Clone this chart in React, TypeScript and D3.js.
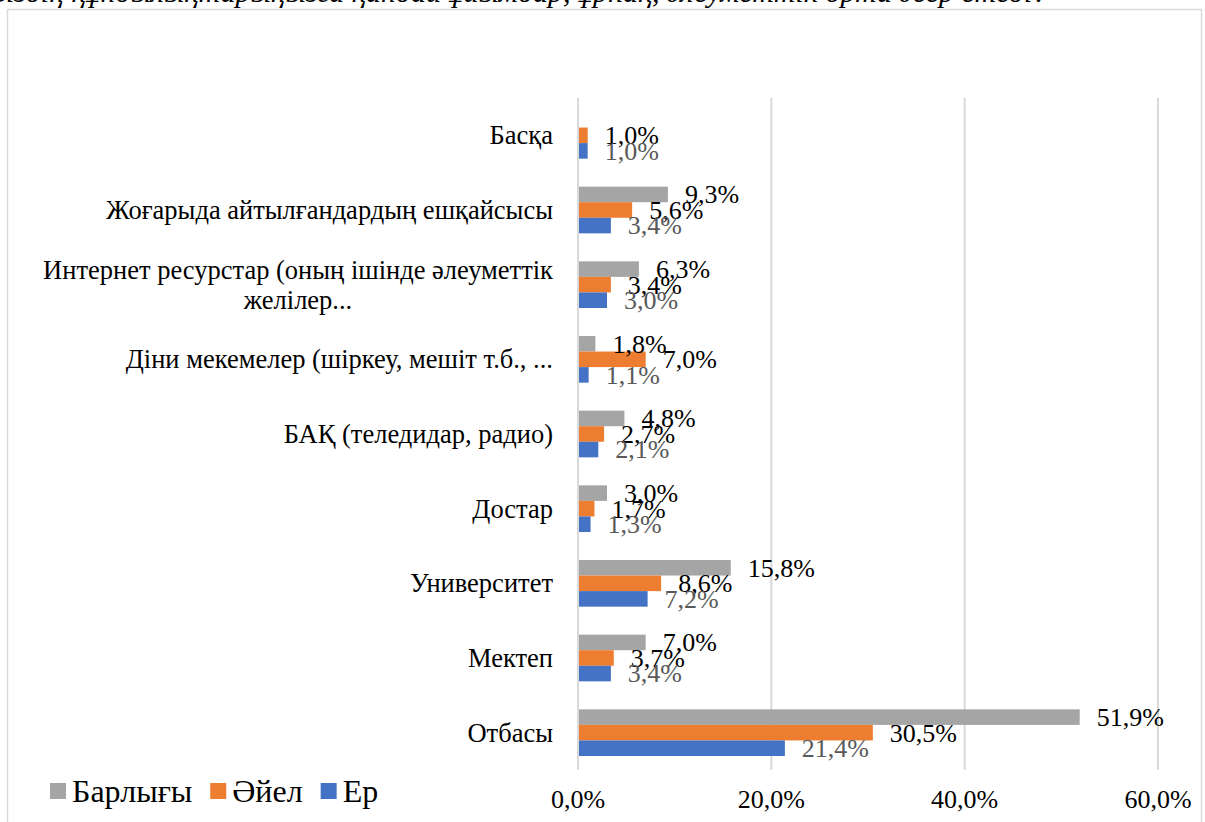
import React, { useEffect, useRef } from 'react';
import * as d3 from 'd3';

const categories = [
  'Отбасы',
  'Мектеп',
  'Университет',
  'Достар',
  'БАҚ (теледидар, радио)',
  'Діни мекемелер (шіркеу, мешіт т.б., ...',
  'Интернет ресурстар (оның ішінде әлеуметтік желілер...',
  'Жоғарыда айтылғандардың ешқайсысы',
  'Басқа',
];
const seriesNames = ['Барлығы', 'Әйел', 'Ер'];
const totalValues: (number | null)[] = [51.9, 7.0, 15.8, 3.0, 4.8, 1.8, 6.3, 9.3, null];
const femaleValues: (number | null)[] = [30.5, 3.7, 8.6, 1.7, 2.7, 7.0, 3.4, 5.6, 1.0];
const maleValues: (number | null)[] = [21.4, 3.4, 7.2, 1.3, 2.1, 1.1, 3.0, 3.4, 1.0];
const xTicks = [0, 20, 40, 60];
const titleText = 'Сіздің құндылықтарыңызға қандай ұйымдар, ұрпақ, әлеуметтік орта әсер етеді?';

const seriesColors = ['#A5A5A5', '#ED7D31', '#4472C4'];
const labelColors = ['#000000', '#000000', '#595959'];

const W = 1205;
const H = 822;
const FONT = '"Liberation Serif", "Times New Roman", serif';

export default function App() {
  const ref = useRef<SVGSVGElement>(null);

  useEffect(() => {
    const svg = d3.select(ref.current);
    svg.selectAll('*').remove();

    const m = { left: 578, right: 1158, top: 98, bottom: 770 };
    const fs = 26;
    const catFs = 26.5;
    const legFs = 32;
    const fmt = (v: number) => v.toFixed(1).replace('.', ',') + '%';

    // title (cut at top)
    svg.append('text')
      .attr('x', -14).attr('y', 2)
      .attr('font-family', FONT).attr('font-style', 'italic')
      .attr('font-size', 30).attr('fill', '#000')
      .text(titleText);

    // frame
    svg.append('rect')
      .attr('x', 7.5).attr('y', 9.5)
      .attr('width', 1194).attr('height', 830)
      .attr('fill', 'white').attr('stroke', '#D9D9D9').attr('stroke-width', 1.5);

    const x = d3.scaleLinear().domain([0, 60]).range([m.left, m.right]);
    const y = d3.scaleBand<string>()
      .domain([...categories].reverse())
      .range([m.top, m.bottom])
      .paddingInner(0.375).paddingOuter(0.1875);
    const ys = d3.scaleBand<string>().domain(seriesNames).range([0, y.bandwidth()]);

    // gridlines
    svg.append('g').selectAll('line').data(xTicks.filter(t => t > 0)).join('line')
      .attr('x1', d => x(d)).attr('x2', d => x(d))
      .attr('y1', m.top).attr('y2', m.bottom)
      .attr('stroke', '#D9D9D9').attr('stroke-width', 2);

    // tick labels
    svg.append('g').selectAll('text').data(xTicks).join('text')
      .attr('x', d => x(d)).attr('y', 808)
      .attr('text-anchor', 'middle')
      .attr('font-family', FONT).attr('font-size', fs).attr('fill', '#000')
      .text(d => fmt(d));

    const seriesData = [totalValues, femaleValues, maleValues];

    // bars
    seriesData.forEach((vals, si) => {
      const g = svg.append('g');
      const rows = categories.map((c, i) => ({ c, v: vals[i] })).filter(d => d.v !== null) as { c: string; v: number }[];
      g.selectAll('rect').data(rows).join('rect')
        .attr('x', x(0))
        .attr('y', d => (y(d.c) as number) + (ys(seriesNames[si]) as number))
        .attr('width', d => x(d.v) - x(0))
        .attr('height', ys.bandwidth())
        .attr('fill', seriesColors[si]);
    });

    // axis line
    svg.append('line')
      .attr('x1', x(0)).attr('x2', x(0))
      .attr('y1', m.top).attr('y2', m.bottom)
      .attr('stroke', '#D9D9D9').attr('stroke-width', 2);

    // data labels
    seriesData.forEach((vals, si) => {
      const g = svg.append('g');
      const rows = categories.map((c, i) => ({ c, v: vals[i] })).filter(d => d.v !== null) as { c: string; v: number }[];
      g.selectAll('text').data(rows).join('text')
        .attr('x', d => x(d.v) + 17)
        .attr('y', d => (y(d.c) as number) + (ys(seriesNames[si]) as number) + ys.bandwidth() / 2 + 0.34 * fs)
        .attr('font-family', FONT).attr('font-size', fs).attr('fill', labelColors[si])
        .text(d => fmt(d.v));
    });

    // category labels with wrapping
    const maxW = 530;
    const labelRight = 553;
    const lineH = 30;
    categories.forEach(c => {
      const cy = (y(c) as number) + y.bandwidth() / 2;
      const t = svg.append('text')
        .attr('font-family', FONT).attr('font-size', catFs).attr('fill', '#000')
        .attr('text-anchor', 'middle');
      const words = c.split(' ');
      const lines: string[] = [];
      let cur = '';
      const probe = t.append('tspan');
      words.forEach(w => {
        const test = cur ? cur + ' ' + w : w;
        probe.text(test);
        if ((probe.node() as SVGTSpanElement).getComputedTextLength() > maxW && cur) {
          lines.push(cur);
          cur = w;
        } else {
          cur = test;
        }
      });
      lines.push(cur);
      let widest = 0;
      lines.forEach(l => {
        probe.text(l);
        widest = Math.max(widest, (probe.node() as SVGTSpanElement).getComputedTextLength());
      });
      probe.remove();
      const cx = labelRight - widest / 2;
      const y0 = cy - ((lines.length - 1) * lineH) / 2 + 0.34 * catFs;
      lines.forEach((l, i) => {
        t.append('tspan').attr('x', cx).attr('y', y0 + i * lineH).text(l);
      });
    });

    // legend
    let lx = 50;
    const ly = 791;
    seriesNames.forEach((s, i) => {
      svg.append('rect').attr('x', lx).attr('y', ly - 8).attr('width', 16).attr('height', 16).attr('fill', seriesColors[i]);
      const t = svg.append('text')
        .attr('x', lx + 22).attr('y', ly + 0.34 * legFs)
        .attr('font-family', FONT).attr('font-size', legFs).attr('fill', '#000')
        .text(s);
      const w = (t.node() as SVGTextElement).getComputedTextLength();
      lx += 22 + w + 18;
    });
  }, []);

  return (
    <svg ref={ref} width={W} height={H} style={{ position: 'absolute', left: 0, top: 0, background: 'white' }} />
  );
}
